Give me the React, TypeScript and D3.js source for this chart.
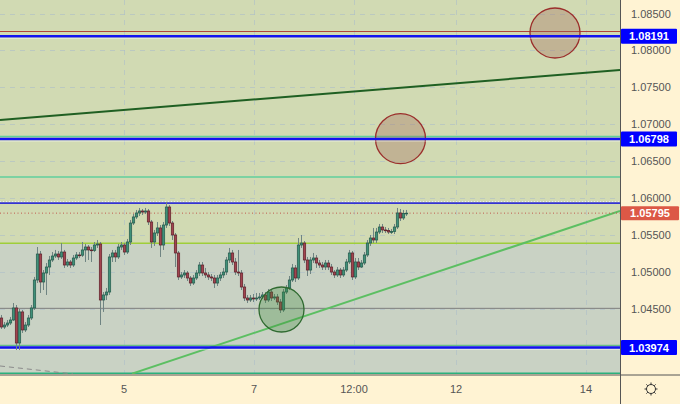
import React from "react";
import * as d3 from "d3";

// ---- Data (EUR/USD style hourly candles) ----
const firstOpen = 1.04374;
const closes = [
  1.04252, 1.04279, 1.04306, 1.04347, 1.0451, 1.04035, 1.04456, 1.04212, 1.04279, 1.04374,
  1.0451, 1.04889, 1.05241, 1.04862, 1.04984, 1.05065, 1.0516, 1.05214, 1.05241, 1.05201,
  1.05268, 1.05092, 1.05133, 1.05092, 1.05187, 1.05228, 1.05225, 1.05296, 1.05336, 1.05296,
  1.0529, 1.05363, 1.05377, 1.04618, 1.04686, 1.04726, 1.05201, 1.05255, 1.05201, 1.05336,
  1.05363, 1.05268, 1.05404, 1.05661, 1.05743, 1.05797, 1.05824, 1.0581, 1.05824, 1.05675,
  1.05404, 1.05526, 1.05594, 1.05363, 1.05634, 1.05878, 1.05661, 1.05499, 1.05255, 1.0493,
  1.04957, 1.04984, 1.04916, 1.04848, 1.04916, 1.04984, 1.05092, 1.04984, 1.04957, 1.0493,
  1.04916, 1.04848, 1.04916, 1.04957, 1.04997, 1.0516, 1.05255, 1.05133, 1.04997, 1.04984,
  1.04794, 1.04645, 1.04618, 1.04645, 1.04632, 1.04645, 1.04659, 1.04686, 1.04618, 1.04726,
  1.04645, 1.04659, 1.04591, 1.04483, 1.04726, 1.04781, 1.04889, 1.05052, 1.04916, 1.05363,
  1.0539, 1.0516, 1.05024, 1.0516, 1.05187, 1.05119, 1.05092, 1.05065, 1.05119, 1.05065,
  1.04997, 1.04957, 1.05024, 1.04957, 1.05024, 1.05133, 1.05255, 1.0493, 1.05133, 1.05065,
  1.05119, 1.05228, 1.0539, 1.05458, 1.05431, 1.05539, 1.05607, 1.05567, 1.0556, 1.05539,
  1.05545, 1.05607, 1.05797, 1.05729, 1.0579, 1.05795,
];
const highs = [
  1.04415, 1.0432, 1.04347, 1.04388, 1.04577, 1.0455, 1.04496, 1.04483, 1.0432, 1.04415,
  1.0455, 1.0493, 1.05336, 1.05282, 1.05024, 1.05119, 1.05214, 1.05268, 1.05296, 1.05282,
  1.0539, 1.05296, 1.05174, 1.0516, 1.05228, 1.05268, 1.05268, 1.05404, 1.05377, 1.05363,
  1.05336, 1.05404, 1.05431, 1.05404, 1.04726, 1.04781, 1.05241, 1.05296, 1.05296, 1.05377,
  1.05404, 1.0539, 1.05445, 1.05702, 1.05783, 1.05838, 1.05865, 1.05851, 1.05865, 1.05851,
  1.05702, 1.05567, 1.05675, 1.05634, 1.05675, 1.05946, 1.05905, 1.05688, 1.05526, 1.05282,
  1.04997, 1.05024, 1.05011, 1.04943, 1.04957, 1.05024, 1.05133, 1.05133, 1.05052, 1.04997,
  1.0497, 1.04957, 1.04957, 1.04997, 1.05052, 1.05201, 1.05323, 1.05296, 1.05187, 1.05296,
  1.05024, 1.04835, 1.04686, 1.04686, 1.04699, 1.04713, 1.04713, 1.04726, 1.04726, 1.04767,
  1.04753, 1.04699, 1.04699, 1.04632, 1.04767, 1.04821, 1.04943, 1.05106, 1.05092, 1.05458,
  1.05499, 1.05417, 1.05201, 1.05201, 1.05255, 1.05228, 1.0516, 1.05133, 1.0516, 1.0516,
  1.05106, 1.05024, 1.05065, 1.05052, 1.05065, 1.05174, 1.05296, 1.05282, 1.05187, 1.05187,
  1.0516, 1.05268, 1.05431, 1.05499, 1.05594, 1.05594, 1.05648, 1.05648, 1.05607, 1.05594,
  1.0558, 1.05648, 1.05865, 1.05851, 1.05838, 1.05838,
];
const lows = [
  1.04225, 1.04225, 1.04252, 1.04279, 1.04333, 1.0394, 1.0394, 1.04171, 1.04184, 1.04252,
  1.04347, 1.04483, 1.04848, 1.04713, 1.04753, 1.04686, 1.04957, 1.05133, 1.05187, 1.0516,
  1.05174, 1.05052, 1.05065, 1.05052, 1.05065, 1.0516, 1.05187, 1.05201, 1.05133, 1.0516,
  1.05133, 1.05268, 1.05323, 1.04279, 1.04456, 1.04618, 1.04686, 1.05133, 1.05133, 1.05174,
  1.05296, 1.05228, 1.05241, 1.05363, 1.05634, 1.05716, 1.05756, 1.0577, 1.05783, 1.05634,
  1.05323, 1.0535, 1.05485, 1.05201, 1.05296, 1.05594, 1.05621, 1.05431, 1.05065, 1.04889,
  1.04903, 1.04916, 1.04875, 1.04808, 1.04821, 1.04889, 1.04943, 1.04943, 1.04916, 1.04889,
  1.04875, 1.04781, 1.04808, 1.04875, 1.04916, 1.04957, 1.05119, 1.05092, 1.04957, 1.04943,
  1.04753, 1.04604, 1.04577, 1.04591, 1.04591, 1.04604, 1.04618, 1.04632, 1.04577, 1.04591,
  1.04604, 1.04618, 1.0455, 1.04442, 1.04456, 1.04699, 1.04753, 1.04862, 1.04862, 1.04889,
  1.05323, 1.05119, 1.04943, 1.0497, 1.05119, 1.05052, 1.05052, 1.05024, 1.05024, 1.05024,
  1.04957, 1.04916, 1.0493, 1.04916, 1.0493, 1.04997, 1.05106, 1.04889, 1.04903, 1.05024,
  1.05052, 1.05092, 1.05201, 1.0535, 1.0539, 1.0539, 1.05512, 1.05526, 1.05526, 1.05512,
  1.05512, 1.05512, 1.0558, 1.05688, 1.05702, 1.05756,
];

const priceTicks = [1.085, 1.08, 1.075, 1.07, 1.065, 1.06, 1.055, 1.05, 1.045];
const priceTickLabels = ["1.08500", "1.08000", "1.07500", "1.07000", "1.06500", "1.06000", "1.05500", "1.05000", "1.04500"];
const timeTickIdx = [40.83, 84.17, 117.5, 151.5, 194.83];
const timeTickLabels = ["5", "7", "12:00", "12", "14"];

// horizontal levels
const blueLevels = [1.08191, 1.06798, 1.03974];
const blueLevelLabels = ["1.08191", "1.06798", "1.03974"];
const lastPrice = 1.05795;
const lastPriceLabel = "1.05795";
const redTopLevel = 1.08256;
const mintUpperLevel = 1.06833;
const mintMidLevel = 1.06285;
const blueDottedLevel = 1.05942;
const zoneSplitLevel = 1.05386;
const greyLevel = 1.04505;
const greenLowLevel = 1.04004;
const tealBottomLevel = 1.03621;

// trend lines: [index, price] pairs
const darkGreenTrend = [[-0.5, 1.07057], [206.17, 1.07734]];
const lightGreenTrend = [[43.5, 1.0362], [206.17, 1.05824]];
const greyDashTrend = [[-0.5, 1.03724], [23.83, 1.03616]];

// circles: [index, price]
const brownCircles = [[184.5, 1.08236], [133, 1.06804]];
const greenCircle = [93.33, 1.04489];

const W = 680;
const H = 404;
const PW = 620;
const PH = 374;

export default function App() {
  const x = d3.scaleLinear().domain([-0.5, 206.5]).range([0, 621]);
  const y = d3.scaleLinear().domain([1.045, 1.085]).range([308.7, 13.5]);
  const line = d3
    .line<number[]>()
    .x((d) => x(d[0]))
    .y((d) => y(d[1]));

  const candles = closes.map((c, i) => ({
    i,
    o: i === 0 ? firstOpen : closes[i - 1],
    c,
    h: highs[i],
    l: lows[i],
  }));

  const font = "'Liberation Sans', Arial, sans-serif";
  const hline = (p: number, color: string, w: number, dash?: string) => (
    <line x1={0} x2={PW} y1={y(p)} y2={y(p)} stroke={color} strokeWidth={w} strokeDasharray={dash} />
  );

  const splitY = y(zoneSplitLevel);

  return (
    <div style={{ position: "fixed", left: 0, top: 0, width: W, height: H }}>
      <svg width={W} height={H} style={{ display: "block" }}>
        <defs>
          <clipPath id="plot">
            <rect x={0} y={0} width={PW} height={PH} />
          </clipPath>
        </defs>
        <rect x={0} y={0} width={W} height={H} fill="#fff3d3" />
        <g clipPath="url(#plot)">
          <rect x={0} y={0} width={PW} height={splitY} fill="#d1dab3" />
          <rect x={0} y={splitY} width={PW} height={PH - splitY} fill="#c9d2c4" />
          {/* grid */}
          {priceTicks.map((p, k) => (
            <line key={"gy" + k} x1={0} x2={PW} y1={Math.round(y(p)) + 0.5} y2={Math.round(y(p)) + 0.5}
              stroke="#a9bccb" strokeOpacity={0.55} strokeDasharray="5,5" />
          ))}
          {timeTickIdx.map((t, k) => (
            <line key={"gx" + k} x1={Math.round(x(t)) + 0.5} x2={Math.round(x(t)) + 0.5} y1={0} y2={PH}
              stroke="#a9bccb" strokeOpacity={0.55} strokeDasharray="5,5" />
          ))}

          {/* levels */}
          {hline(redTopLevel, "#b1443a", 1)}
          {hline(mintUpperLevel, "#5fcf9c", 1.5)}
          {hline(mintMidLevel, "#5fcf9c", 1.5)}
          {hline(greyLevel, "#7d7d7d", 1)}
          {hline(greenLowLevel, "#4dbb7a", 1)}
          {hline(tealBottomLevel, "#2ab07c", 2)}
          {hline(zoneSplitLevel, "#9fce3a", 1.5)}

          {/* trend lines */}
          <path d={line(darkGreenTrend) || ""} stroke="#1f5f22" strokeWidth={2} fill="none" />
          <path d={line(lightGreenTrend) || ""} stroke="#5cbf62" strokeWidth={2} fill="none" />
          <path d={line(greyDashTrend) || ""} stroke="#8a8a8a" strokeWidth={1} strokeDasharray="5,4" fill="none" />

          {/* brown circles */}
          {brownCircles.map((c, k) => (
            <circle key={"bc" + k} cx={x(c[0])} cy={y(c[1])} r={25}
              fill="rgba(160,100,85,0.33)" stroke="#9b2e2b" strokeWidth={1.3} />
          ))}

          {/* blue levels */}
          {blueLevels.map((p, k) => (
            <g key={"bl" + k}>
              <line x1={0} x2={PW} y1={y(p)} y2={y(p)} stroke="#1212f0" strokeWidth={2.5} />
              <line x1={0} x2={PW} y1={y(p) + 2} y2={y(p) + 2} stroke="#ffffff" strokeOpacity={0.45} strokeWidth={1} />
            </g>
          ))}
          <line x1={0} x2={PW} y1={y(blueDottedLevel) + 0.8} y2={y(blueDottedLevel) + 0.8} stroke="#3434d4" strokeWidth={1.6} />
          <line x1={0} x2={PW} y1={y(blueDottedLevel) - 0.8} y2={y(blueDottedLevel) - 0.8} stroke="#e8ecf5" strokeWidth={1} strokeDasharray="1,2" />
          {hline(lastPrice, "#c0594c", 1, "1,2.5")}

          {/* candles */}
          {candles.map((d) => {
            const up = d.c >= d.o;
            const cx = x(d.i);
            const top = y(Math.max(d.o, d.c));
            const bot = y(Math.min(d.o, d.c));
            return (
              <g key={"c" + d.i}>
                <line x1={cx} x2={cx} y1={y(d.h)} y2={y(d.l)} stroke="#6f8482" strokeWidth={1} />
                <rect x={cx - 1.2} y={top} width={2.4} height={Math.max(bot - top, 0.8)}
                  fill={up ? "#3f9079" : "#a2434f"} stroke={up ? "#245a4b" : "#5e2029"} strokeWidth={0.7} />
              </g>
            );
          })}

          {/* green circle */}
          <circle cx={x(greenCircle[0])} cy={y(greenCircle[1])} r={22.5}
            fill="rgba(60,140,55,0.3)" stroke="#2f6a30" strokeWidth={1.3} />
        </g>

        {/* axes borders */}
        <line x1={620.5} x2={620.5} y1={0} y2={H} stroke="#555" strokeWidth={1} />
        <line x1={0} x2={W} y1={375} y2={375} stroke="#555" strokeWidth={1} />

        {/* price axis labels */}
        {priceTicks.map((p, k) => (
          <text key={"pt" + k} x={631} y={y(p) + 4} fontFamily={font} fontSize={11} fill="#555">
            {priceTickLabels[k]}
          </text>
        ))}
        {blueLevels.map((p, k) => (
          <g key={"bll" + k}>
            <rect x={621} y={y(p) - 7.5} width={56} height={15} fill="#0000ff" rx={1} />
            <text x={649} y={y(p) + 4} textAnchor="middle" fontFamily={font} fontSize={11} fontWeight="bold" fill="#fff">
              {blueLevelLabels[k]}
            </text>
          </g>
        ))}
        <rect x={621} y={y(lastPrice) - 7} width={58} height={14} fill="#dc5846" rx={1} />
        <text x={650} y={y(lastPrice) + 4} textAnchor="middle" fontFamily={font} fontSize={11} fontWeight="bold" fill="#fff">
          {lastPriceLabel}
        </text>

        {/* time axis labels */}
        {timeTickIdx.map((t, k) => (
          <text key={"tt" + k} x={x(t)} y={393} textAnchor="middle" fontFamily={font} fontSize={11} fill="#555">
            {timeTickLabels[k]}
          </text>
        ))}

        {/* gear icon */}
        <g transform="translate(651,389)" stroke="#333" fill="none" strokeWidth={1}>
          <circle r={4.5} />
          {d3.range(8).map((k) => {
            const a = (k * Math.PI) / 4;
            return (
              <line key={"g" + k} x1={Math.cos(a) * 4.5} y1={Math.sin(a) * 4.5} x2={Math.cos(a) * 6.5} y2={Math.sin(a) * 6.5} />
            );
          })}
        </g>
      </svg>
    </div>
  );
}
